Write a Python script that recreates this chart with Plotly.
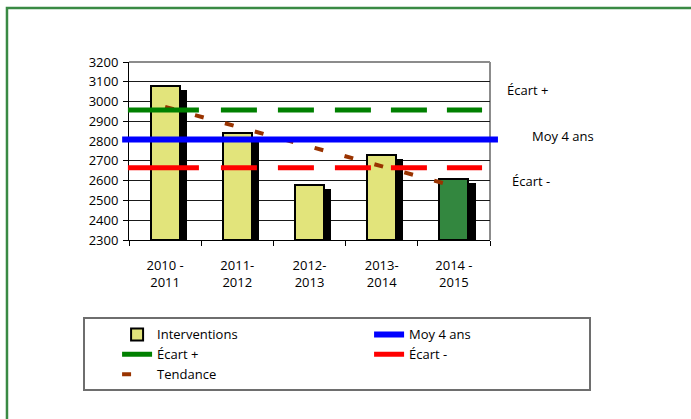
import plotly.graph_objects as go

# ---- data ----
categories = ["2010 -<br>2011", "2011-<br>2012", "2012-<br>2013", "2013-<br>2014", "2014 -<br>2015"]
interventions = [3080, 2840, 2580, 2730, 2610]
tendance = [2973, 2873, 2773, 2673, 2573]
moy_4_ans = 2808
ecart_plus = 2957
ecart_moins = 2665
y_ticks = [2300, 2400, 2500, 2600, 2700, 2800, 2900, 3000, 3100, 3200]

# ---- style ----
FONT = "Open Sans"
YELLOW = "#E2E47B"
DKGREEN = "#33873F"
bar_colors = [YELLOW, YELLOW, YELLOW, YELLOW, DKGREEN]
SHADOW_DROP = 20  # visual drop-shadow offset (style)
ECART_DASH = "71px,22px,36px,21px,36px,21px,36px,20px,36px,20px,36px,200px"

fig = go.Figure()

# drop shadow of bars
fig.add_trace(go.Bar(
    x=categories, y=[v - SHADOW_DROP - 2300 for v in interventions], base=2300,
    width=0.4, offset=-0.1, marker=dict(color="black", line=dict(width=0)),
    showlegend=False, hoverinfo="skip"))

fig.add_trace(go.Bar(
    x=categories, y=[v - 2300 for v in interventions], base=2300,
    width=0.4, offset=-0.2, name="Interventions",
    marker=dict(color=bar_colors, line=dict(color="black", width=2)),
    legendrank=1))

fig.add_trace(go.Scatter(
    x=categories, y=tendance, mode="lines", name="Tendance",
    line=dict(color="#993300", width=4, dash="9px,22px"), legendrank=5))

shapes = [
    dict(type="line", xref="paper", yref="y", x0=-0.019, x1=1.022,
         y0=moy_4_ans, y1=moy_4_ans, line=dict(color="#0000FF", width=6),
         name="Moy 4 ans", showlegend=True, legendrank=2, layer="above"),
    dict(type="line", xref="paper", yref="y", x0=-0.003, x1=0.978,
         y0=ecart_plus, y1=ecart_plus,
         line=dict(color="#008000", width=5, dash=ECART_DASH),
         name="Écart +", showlegend=True, legendrank=3, layer="above"),
    dict(type="line", xref="paper", yref="y", x0=-0.003, x1=0.978,
         y0=ecart_moins, y1=ecart_moins,
         line=dict(color="#FF0000", width=5, dash=ECART_DASH),
         name="Écart -", showlegend=True, legendrank=4, layer="above"),
    # plot-area top and right borders
    dict(type="line", xref="paper", yref="paper", x0=0, x1=1, y0=1, y1=1,
         line=dict(color="#8c8c8c", width=2), layer="below"),
    dict(type="line", xref="paper", yref="paper", x0=1, x1=1, y0=0, y1=1,
         line=dict(color="#8c8c8c", width=2), layer="below"),
    # outer green frame
    dict(type="rect", xref="paper", yref="paper", x0=-0.338, x1=1.7,
         y0=-1.2, y1=1.303, line=dict(color="#3A8A44", width=2.5),
         fillcolor="rgba(0,0,0,0)", layer="below"),
]

annotations = [
    dict(text="Écart +", xref="paper", yref="y", x=1.042, y=ecart_plus, yshift=20,
         xanchor="left", showarrow=False, font=dict(size=13, color="black", family=FONT)),
    dict(text="Moy 4 ans", xref="paper", yref="y", x=1.111, y=moy_4_ans, yshift=4,
         xanchor="left", showarrow=False, font=dict(size=13, color="black", family=FONT)),
    dict(text="Écart -", xref="paper", yref="y", x=1.055, y=ecart_moins, yshift=-13,
         xanchor="left", showarrow=False, font=dict(size=13, color="black", family=FONT)),
]

fig.update_layout(
    width=691, height=419,
    margin=dict(l=129, r=201, t=62, b=179, autoexpand=False),
    paper_bgcolor="white", plot_bgcolor="white",
    barmode="overlay", bargap=0,
    font=dict(family=FONT, size=13, color="black"),
    shapes=shapes, annotations=annotations,
    showlegend=True,
    legend=dict(orientation="h", x=1.28, y=-0.435, xanchor="right", yanchor="top",
                entrywidth=175, indentation=32,
                bordercolor="#6e6e6e", borderwidth=2, bgcolor="white",
                font=dict(family=FONT, size=13, color="black"),
                traceorder="normal"),
    xaxis=dict(type="category", categoryorder="array", categoryarray=categories,
               range=[-0.5, 4.5], showgrid=False, showline=True, linecolor="black",
               linewidth=1, ticks="outside", tickson="boundaries", ticklen=5,
               tickcolor="black", ticklabelstandoff=13, zeroline=False),
    yaxis=dict(range=[2300, 3200], tickvals=y_ticks, showgrid=True,
               gridcolor="#1a1a1a", gridwidth=1, showline=True, linecolor="black",
               linewidth=1, ticks="outside", ticklen=5, tickcolor="black",
               zeroline=False, ticklabelstandoff=2),
)

fig.write_html("out.html", config={"displayModeBar": False},
               post_script="document.body.style.margin='0';")
